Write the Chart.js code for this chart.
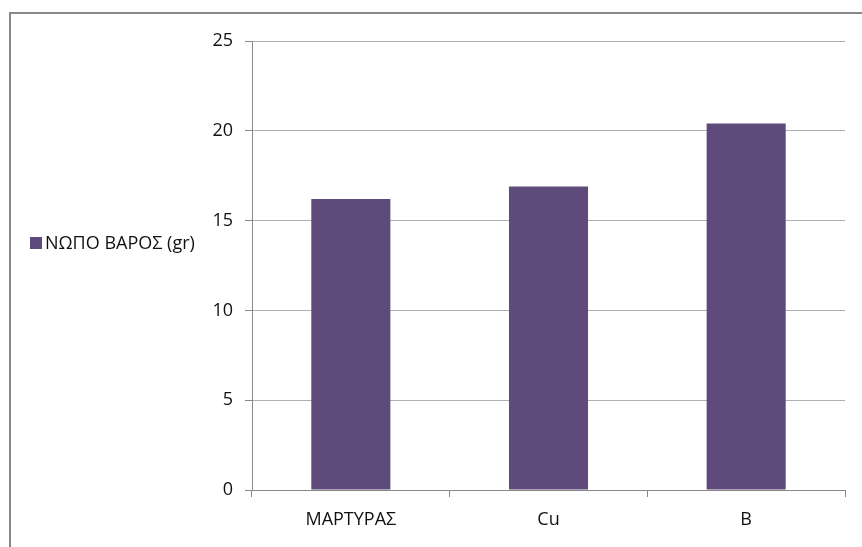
<!DOCTYPE html>
<html>
<head>
	<meta charset="utf-8">
	<title>ΝΩΠΟ ΒΑΡΟΣ</title>
	<script src="https://cdn.jsdelivr.net/npm/chart.js@4/dist/chart.umd.min.js"></script>
	<style>
		html, body { margin: 0; padding: 0; background: #fff; overflow: hidden; }
		#frame {
			position: absolute; left: 9px; top: 12px; width: 900px; height: 600px;
			border-left: 2px solid #888; border-top: 2px solid #888;
		}
		#wrap { position: absolute; left: 0; top: 0; width: 862px; height: 547px; }
	</style>
</head>
<body>
	<div id="frame"></div>
	<div id="wrap"><canvas id="chart" width="862" height="547"></canvas></div>
	<script>
		var categories = ["ΜΑΡΤΥΡΑΣ", "Cu", "B"];
		var seriesName = "ΝΩΠΟ ΒΑΡΟΣ (gr)";
		var weights = [16.2, 16.9, 20.4];
		var yTicks = [0, 5, 10, 15, 20, 25];

		var barColor = "#5f4b7b";
		var fontFace = "'Open Sans', 'Noto Sans', sans-serif";

		// legend drawn on the left, square + label
		var sideLegend = {
			id: "sideLegend",
			afterDraw: function(chart) {
				var ctx = chart.ctx;
				var ds = chart.data.datasets[0];
				ctx.save();
				ctx.fillStyle = ds.backgroundColor;
				ctx.fillRect(30, 237, 12, 12);
				ctx.fillStyle = "#111";
				ctx.font = "18px " + fontFace;
				ctx.textBaseline = "middle";
				ctx.textAlign = "left";
				ctx.fillText(ds.label, 45, 244);
				ctx.restore();
			}
		};

		var ctx = document.getElementById("chart").getContext("2d");
		window.bar = new Chart(ctx, {
			type: "bar",
			data: {
				labels: categories,
				datasets: [{
					label: seriesName,
					data: weights,
					backgroundColor: barColor,
					borderWidth: 0,
					barPercentage: 0.4,
					categoryPercentage: 1.0
				}]
			},
			options: {
				responsive: false,
				animation: false,
				layout: { padding: { left: 0, right: 17, top: 41, bottom: 0 } },
				plugins: {
					legend: { display: false },
					tooltip: { enabled: false }
				},
				scales: {
					x: {
						grid: {
							offset: true,
							drawOnChartArea: false,
							drawTicks: true,
							tickLength: 7,
							color: "#888"
						},
						border: { color: "#888", width: 1 },
						ticks: {
							color: "#111",
							padding: 12,
							maxRotation: 0,
							font: { family: fontFace, size: 18 }
						},
						afterFit: function(scale) { scale.height = 57; }
					},
					y: {
						min: 0,
						max: 25,
						afterBuildTicks: function(scale) {
							scale.ticks = yTicks.map(function(v) { return { value: v }; });
						},
						grid: {
							color: "#b0b0b0",
							tickColor: "#888",
							tickLength: 7,
							lineWidth: 1
						},
						border: { color: "#888", width: 1 },
						ticks: {
							color: "#111",
							padding: 12,
							font: { family: fontFace, size: 18 }
						},
						afterFit: function(scale) { scale.width = 252; }
					}
				}
			},
			plugins: [sideLegend]
		});
	</script>
</body>
</html>
